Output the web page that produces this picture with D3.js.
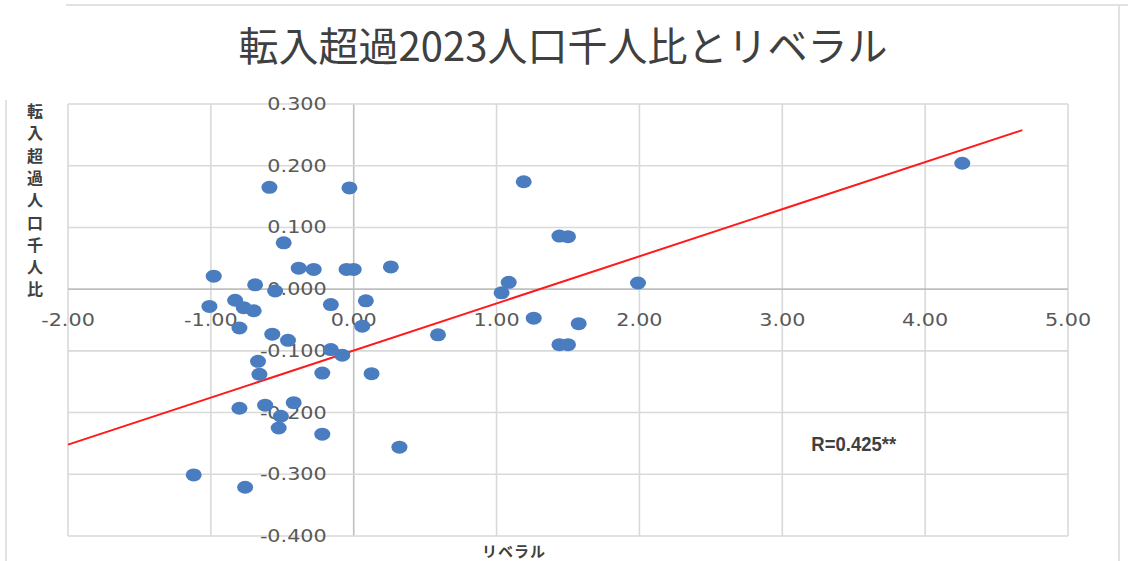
<!DOCTYPE html>
<html><head><meta charset="utf-8">
<script src="https://cdn.jsdelivr.net/npm/d3@7"></script>
<style>
html,body{margin:0;padding:0;background:#fff;}
svg{display:block;}
</style></head>
<body>
<svg id="chart" width="1128" height="561"></svg>
<script>
// ---- data ----
const titleText = "転入超過2023人口千人比とリベラル";
const yTitle = "転入超過人口千人比";
const xTitle = "リベラル";
const rLabel = "R=0.425**";
const xTicks = [-2, -1, 0, 1, 2, 3, 4, 5];
const yTicks = [-0.4, -0.3, -0.2, -0.1, 0, 0.1, 0.2, 0.3];
const xDomain = [-2, 5];
const yDomain = [-0.4, 0.3];
// liberal score (x) and net in-migration per 1000 (y)
const xValues = [-0.59, -0.03, -0.49, -0.385, -0.28, -0.05, 0.0, -0.98, -0.69, -0.55,
  -1.01, -0.83, -0.77, -0.70, -0.80, -0.16, 0.085, 0.06, -0.57, -0.46,
  -0.16, -0.08, -0.67, -0.66, -0.22, 0.125, -0.80, -0.62, -0.42, -0.51,
  -0.525, -0.22, -1.12, -0.76, 0.26, 0.59, 0.32, 1.19, 1.44, 1.50,
  1.085, 1.035, 1.99, 1.26, 1.575, 1.44, 1.50, 4.26];
const yValues = [0.165, 0.164, 0.075, 0.034, 0.032, 0.032, 0.032, 0.021, 0.007, -0.003,
  -0.028, -0.018, -0.030, -0.035, -0.063, -0.025, -0.019, -0.060, -0.073, -0.083,
  -0.098, -0.107, -0.117, -0.138, -0.136, -0.137, -0.193, -0.188, -0.184, -0.206,
  -0.225, -0.235, -0.301, -0.321, 0.036, -0.074, -0.256, 0.174, 0.086, 0.085,
  0.011, -0.006, 0.010, -0.047, -0.056, -0.090, -0.090, 0.204];
const trendSlope = 0.0763;
const trendIntercept = -0.0994;
const trendXRange = [-2, 4.68];

// ---- drawing ----
const svg = d3.select("#chart");
const W = 1128, H = 561;
const x = d3.scaleLinear().domain(xDomain).range([68, 1068]);
const y = d3.scaleLinear().domain(yDomain).range([536, 104]);
const loc = d3.formatLocale({decimal: ".", thousands: ",", grouping: [3], currency: ["", ""], minus: "-"});
const fx = loc.format(".2f"), fy = loc.format(".3f");

svg.append("rect").attr("width", W).attr("height", H).attr("fill", "#fff");
// outer chart border
svg.append("path")
  .attr("d", `M6,${H} L6,100 M66,5 L${W},5 M1119,5 L1119,${H}`)
  .attr("stroke", "#d9d9d9").attr("stroke-width", 1.5).attr("fill", "none");

// title
svg.append("text").attr("x", 563).attr("y", 61).attr("text-anchor", "middle")
  .attr("font-family", "'Noto Sans CJK JP', sans-serif").attr("font-size", 40)
  .attr("fill", "#404040").text(titleText);

const g = svg.append("g");
// gridlines
g.selectAll(".vg").data(xTicks).join("line").attr("class", "vg")
  .attr("x1", d => x(d)).attr("x2", d => x(d)).attr("y1", y(yDomain[1])).attr("y2", y(yDomain[0]))
  .attr("stroke", d => d === 0 ? "#bfbfbf" : "#d9d9d9").attr("stroke-width", 1.6);
g.selectAll(".hg").data(yTicks).join("line").attr("class", "hg")
  .attr("y1", d => y(d)).attr("y2", d => y(d)).attr("x1", x(xDomain[0])).attr("x2", x(xDomain[1]))
  .attr("stroke", d => Math.abs(d) < 1e-9 ? "#bfbfbf" : "#d9d9d9").attr("stroke-width", 1.6);

// tick labels (horizontally stretched like the reference)
const sx = 1.22;
g.selectAll(".xl").data(xTicks).join("text").attr("class", "xl")
  .attr("transform", d => `translate(${x(d)},${y(0) + 37}) scale(${sx},1)`)
  .attr("text-anchor", "middle")
  .attr("font-family", "'DejaVu Sans', sans-serif").attr("font-size", 17)
  .attr("fill", "#595959").text(d => fx(d));
g.selectAll(".yl").data(yTicks).join("text").attr("class", "yl")
  .attr("transform", d => `translate(${x(0) - 27},${y(d) + 6}) scale(${sx},1)`)
  .attr("text-anchor", "end")
  .attr("font-family", "'DejaVu Sans', sans-serif").attr("font-size", 17)
  .attr("fill", "#595959").text(d => fy(d));

// trend line
const trend = trendXRange.map(v => [v, trendIntercept + trendSlope * v]);
g.append("path")
  .attr("d", d3.line().x(d => x(d[0])).y(d => y(d[1]))(trend))
  .attr("stroke", "#ff1a1a").attr("stroke-width", 2).attr("fill", "none");

// points
const pts = xValues.map((v, i) => ({x: v, y: yValues[i]}));
g.selectAll(".pt").data(pts).join("ellipse").attr("class", "pt")
  .attr("cx", d => x(d.x)).attr("cy", d => y(d.y))
  .attr("rx", 8).attr("ry", 6.5).attr("fill", "#4a7cc0");

// R label
svg.append("text")
  .attr("transform", `translate(${x(3.5)},${y(-0.25) + 8}) scale(0.88,1)`)
  .attr("text-anchor", "middle")
  .attr("font-family", "'Liberation Sans', Arial, sans-serif").attr("font-size", 21)
  .attr("font-weight", "bold").attr("fill", "#404040").text(rLabel);

// y axis title (stacked vertical characters)
const yChars = Array.from(yTitle);
svg.selectAll(".yt").data(yChars).join("text").attr("class", "yt")
  .attr("x", 35).attr("y", (d, i) => 117 + i * 22.3)
  .attr("text-anchor", "middle")
  .attr("font-family", "'Noto Sans CJK JP', sans-serif").attr("font-size", 16)
  .attr("font-weight", "bold").attr("fill", "#404040").text(d => d);

// x axis title
svg.append("text").attr("x", 514).attr("y", 557)
  .attr("text-anchor", "middle")
  .attr("font-family", "'Noto Sans CJK JP', sans-serif").attr("font-size", 15)
  .attr("font-weight", "bold").attr("letter-spacing", 1).attr("fill", "#404040").text(xTitle);
</script>
</body></html>
